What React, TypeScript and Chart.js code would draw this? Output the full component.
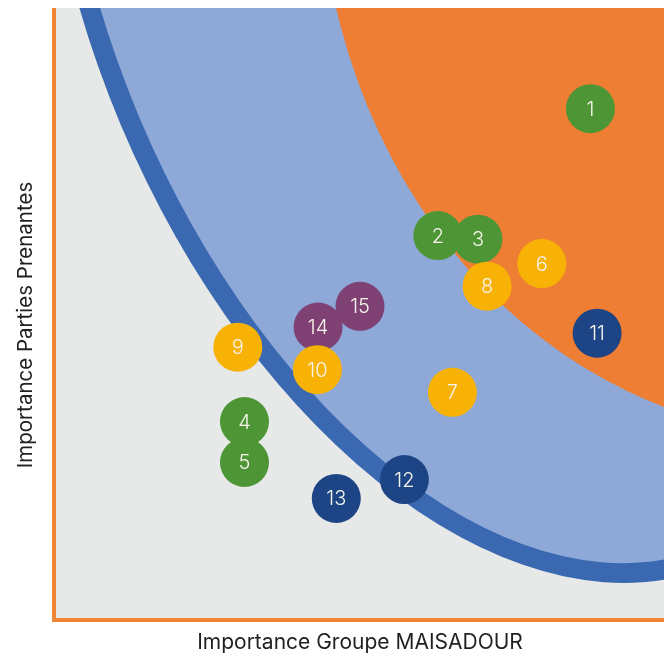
import React, { useEffect, useRef } from 'react';
import { Chart, registerables } from 'chart.js';

Chart.register(...registerables);

// ---- Data ----
const ISSUE_LABELS = ['1', '2', '3', '4', '5', '6', '7', '8', '9', '10', '11', '12', '13', '14', '15'];
const GROUPE_SCORES = [8.79, 6.28, 6.94, 3.10, 3.10, 7.99, 6.52, 7.09, 2.99, 4.30, 8.90, 5.73, 4.61, 4.31, 5.00];
const PARTIES_SCORES = [8.35, 6.27, 6.21, 3.22, 2.55, 5.81, 3.70, 5.44, 4.44, 4.07, 4.67, 2.27, 1.96, 4.77, 5.11];
const ISSUE_GROUPS = ['green', 'green', 'green', 'green', 'green', 'yellow', 'yellow', 'yellow', 'yellow', 'yellow', 'navy', 'navy', 'navy', 'purple', 'purple'];

// drawing order: first dataset is drawn on top
const GROUP_ORDER = ['yellow', 'navy', 'purple', 'green'];
const GROUP_COLORS: Record<string, string> = {
  green: '#4E9635',
  yellow: '#F8B205',
  navy: '#1D4484',
  purple: '#7F4073',
};

const X_TITLE = 'Importance Groupe MAISADOUR';
const Y_TITLE = 'Importance Parties Prenantes';

// zones (data units)
const ZONE_MEDIUM = { cx: 6.79, cy: 10.49, rx: 10.44, ry: 6.21, rotDeg: 67.2 };
const ZONE_HIGH = { cx: 12.57, cy: 12.43, rx: 8.24, ry: 9.44, rotDeg: 0 };

const BG_COLOR = '#E7E9E8';
const RING_COLOR = '#3A69B2';
const MEDIUM_COLOR = '#8EA9D8';
const HIGH_COLOR = '#EE7E33';
const AXIS_COLOR = '#EF8636';
const RING_WIDTH = 20;
const AXIS_WIDTH = 4;
const BUBBLE_RADIUS = 24.5;
const Y_TITLE_SHIFT = 12;
const FONT_FAMILY = 'Inter, "Noto Sans", sans-serif';
const CANVAS_W = 656;
const CANVAS_H = 649;

const backgroundPlugin = {
  id: 'matrixBackground',
  afterLayout(chart: any) {
    // nudge the vertical title slightly below the plot centre, as in the reference
    const ys = chart.scales.y;
    ys.top += Y_TITLE_SHIFT;
    ys.bottom += Y_TITLE_SHIFT;
  },
  beforeDatasetsDraw(chart: any) {
    const { ctx, chartArea: a, scales } = chart;
    const xs = scales.x;
    const ys = scales.y;
    const ppx = Math.abs(xs.getPixelForValue(1) - xs.getPixelForValue(0));
    const ppy = Math.abs(ys.getPixelForValue(1) - ys.getPixelForValue(0));
    ctx.save();
    ctx.beginPath();
    ctx.rect(a.left, a.top, a.right - a.left, a.bottom - a.top);
    ctx.clip();
    ctx.fillStyle = BG_COLOR;
    ctx.fillRect(a.left, a.top, a.right - a.left, a.bottom - a.top);
    const drawZone = (z: any, inset: number, color: string) => {
      const cx = xs.getPixelForValue(z.cx);
      const cy = ys.getPixelForValue(z.cy);
      const rot = (z.rotDeg * Math.PI) / 180;
      const ppuA = Math.hypot(ppx * Math.cos(rot), ppy * Math.sin(rot));
      const ppuB = Math.hypot(ppx * Math.sin(rot), ppy * Math.cos(rot));
      ctx.beginPath();
      ctx.ellipse(cx, cy, z.rx * ppuA - inset, z.ry * ppuB - inset, rot, 0, Math.PI * 2);
      ctx.fillStyle = color;
      ctx.fill();
    };
    drawZone(ZONE_MEDIUM, 0, RING_COLOR);
    drawZone(ZONE_MEDIUM, RING_WIDTH, MEDIUM_COLOR);
    drawZone(ZONE_HIGH, 0, HIGH_COLOR);
    ctx.restore();
  },
  afterDatasetsDraw(chart: any) {
    const { ctx } = chart;
    ctx.save();
    ctx.fillStyle = '#F6F4EC';
    ctx.font = `300 20px ${FONT_FAMILY}`;
    ctx.textAlign = 'center';
    ctx.textBaseline = 'middle';
    chart.data.datasets.forEach((ds: any, di: number) => {
      const meta = chart.getDatasetMeta(di);
      meta.data.forEach((el: any, i: number) => {
        ctx.fillText(ds.issueLabels[i], el.x, el.y + 1);
      });
    });
    ctx.restore();
  },
  afterDraw(chart: any) {
    const { ctx, chartArea: a } = chart;
    ctx.save();
    ctx.fillStyle = AXIS_COLOR;
    ctx.fillRect(a.left - AXIS_WIDTH, a.top, AXIS_WIDTH, a.bottom - a.top + AXIS_WIDTH);
    ctx.fillRect(a.left - AXIS_WIDTH, a.bottom, a.right - a.left + AXIS_WIDTH, AXIS_WIDTH);
    ctx.restore();
  },
};

export default function App() {
  const canvasRef = useRef<HTMLCanvasElement>(null);

  useEffect(() => {
    document.documentElement.style.overflow = 'hidden';
    const datasets = GROUP_ORDER.map((g) => {
      const idx = ISSUE_LABELS.map((_, i) => i).filter((i) => ISSUE_GROUPS[i] === g);
      return {
        label: g,
        data: idx.map((i) => ({ x: GROUPE_SCORES[i], y: PARTIES_SCORES[i] })),
        issueLabels: idx.map((i) => ISSUE_LABELS[i]),
        backgroundColor: GROUP_COLORS[g],
        borderWidth: 0,
        radius: BUBBLE_RADIUS,
      };
    });

    const chart = new Chart(canvasRef.current!, {
      type: 'bubble',
      data: { datasets: datasets as any },
      options: {
        animation: false,
        responsive: false,
        events: [],
        layout: { padding: 0, autoPadding: false },
        plugins: { legend: { display: false }, tooltip: { enabled: false } },
        scales: {
          x: {
            type: 'linear',
            min: 0,
            max: 10,
            grid: { display: false, drawTicks: false },
            border: { display: false },
            ticks: { display: false },
            title: {
              display: true,
              text: X_TITLE,
              font: { family: FONT_FAMILY, size: 21, weight: 'normal' },
              color: '#231F20',
              padding: { top: 0, bottom: 2 },
            },
            afterFit: (s: any) => {
              s.height = 39;
            },
          },
          y: {
            type: 'linear',
            min: 0,
            max: 10,
            grid: { display: false, drawTicks: false },
            border: { display: false },
            ticks: { display: false },
            title: {
              display: true,
              text: Y_TITLE,
              font: { family: FONT_FAMILY, size: 20.5, weight: 'normal' },
              color: '#231F20',
              padding: { top: 6, bottom: 0 },
            },
            afterFit: (s: any) => {
              s.width = 48;
            },
          },
        },
      } as any,
      plugins: [backgroundPlugin],
    });
    return () => chart.destroy();
  }, []);

  return (
    <div style={{ position: 'fixed', left: 8, top: 8, width: CANVAS_W, height: CANVAS_H }}>
      <canvas ref={canvasRef} width={CANVAS_W} height={CANVAS_H} style={{ display: 'block' }} />
    </div>
  );
}
